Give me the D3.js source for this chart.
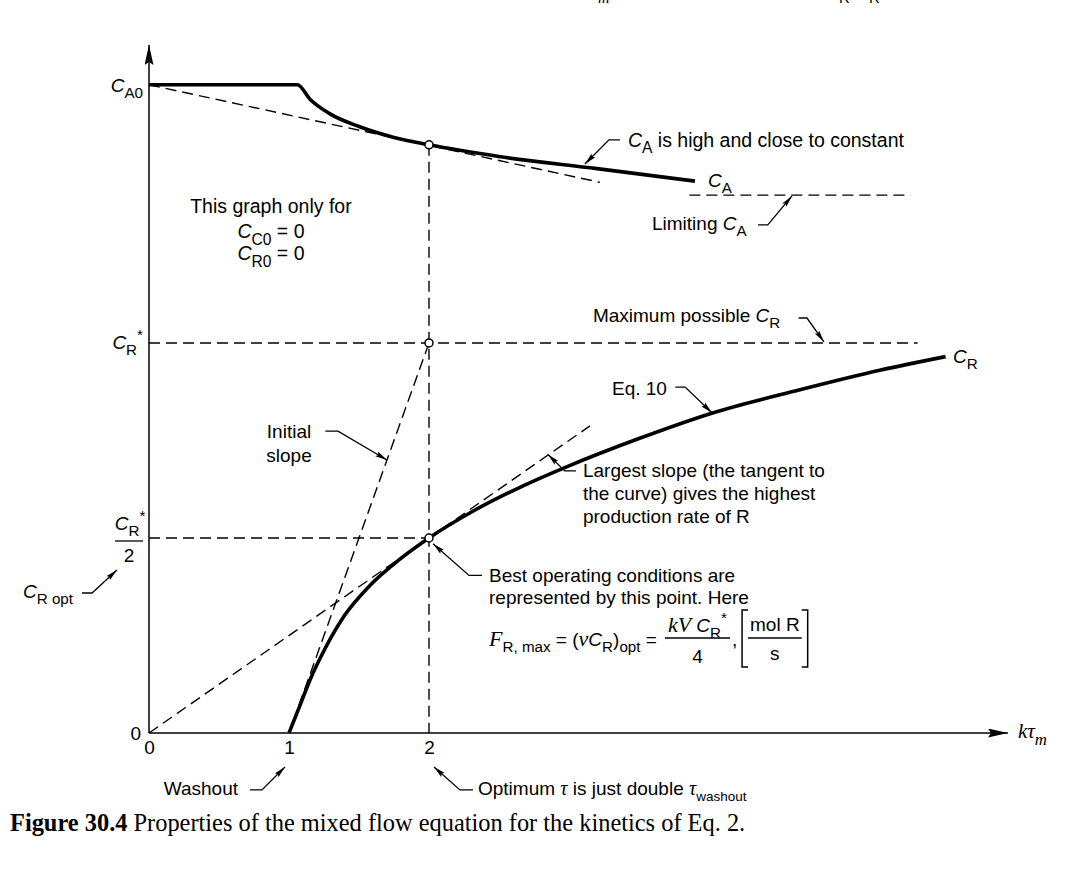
<!DOCTYPE html>
<html><head><meta charset="utf-8">
<script src="https://cdn.jsdelivr.net/npm/d3@7"></script>
<style>body{margin:0;background:#fff}svg{display:block}</style>
</head><body>
<svg id="c" width="1079" height="874"></svg>
<script>
// ---------------- data (kτm on x, concentrations in units of C_R*) ----------------
const xTicks = [0, 1, 2];
const xTickLabels = ["0", "1", "2"];
const yTicks = [0];
const yTickLabels = ["0"];
const CA0 = 1.662;          // feed concentration of A
const CRstar = 1;           // maximum possible C_R
const CRopt = 0.5;          // C_R*/2
const CAlimit = 1.379;      // limiting C_A
const kTauOpt = 2;          // optimum kτm
const kTauWash = 1;         // washout
const kTauA = [0, 1.06, 1.15, 1.29, 1.5, 1.75, 2, 2.5, 3.2, 3.9];
const CA    = [1.662, 1.662, 1.625, 1.588, 1.555, 1.527, 1.508, 1.478, 1.447, 1.415];
const kTauR = [1, 1.08, 1.15, 1.26, 1.4, 1.58, 1.79, 2, 2.31, 2.65, 3.0, 3.5, 4.02, 4.65, 5.22, 5.69];
const CR    = [0, 0.072, 0.136, 0.218, 0.303, 0.379, 0.445, 0.5, 0.568, 0.63, 0.685, 0.755, 0.82, 0.88, 0.93, 0.965];
const caTanX = [0, 3.22],  caTanY = [1.662, 1.412];
const initX  = [1.07, 2],  initY  = [0.07, 1];
const maxX   = [0, 3.15],  maxY   = [0, 0.7875];
const limitX = [3.86, 5.44];
const crStarX = [0, 5.49];

// ---------------- setup ----------------
const svg = d3.select('#c');
const SANS = '"Liberation Sans", Arial, sans-serif';
const SERIF = '"Liberation Serif", "Times New Roman", serif';
const FS = 19;
svg.style('font-family', SANS);
const x = d3.scaleLinear().domain([0, 6.136]).range([149, 1008]);
const y = d3.scaleLinear().domain([0, 1.764]).range([733, 45]);

const defs = svg.append('defs');
defs.append('marker').attr('id','axArr').attr('markerUnits','userSpaceOnUse')
  .attr('viewBox','0 0 20 9').attr('refX',20).attr('refY',4.5)
  .attr('markerWidth',20).attr('markerHeight',9).attr('orient','auto')
  .append('path').attr('d','M0,0 L20,4.5 L0,9 L3,4.5 Z').attr('fill','#000');
defs.append('marker').attr('id','anArr').attr('markerUnits','userSpaceOnUse')
  .attr('viewBox','0 0 12 6').attr('refX',12).attr('refY',3)
  .attr('markerWidth',12).attr('markerHeight',6).attr('orient','auto')
  .append('path').attr('d','M0,0.3 L12,3 L0,5.7 L2,3 Z').attr('fill','#000');

const line = d3.line().x(d => x(d[0])).y(d => y(d[1]));
const zip = (a, b) => a.map((v, i) => [v, b[i]]);
const g = svg.append('g');

function rich(sel, px, py, segs, anchor, size) {
  size = size || FS;
  const t = sel.append('text').attr('x', px).attr('y', py)
    .attr('text-anchor', anchor || 'start').style('font-size', size + 'px').attr('fill','#000');
  let off = 0;
  segs.forEach(s => {
    const sp = t.append('tspan').text(s.t);
    let target = 0, fs = s.size || size;
    if (s.sub) { target = size * 0.34; fs = s.size || size * 0.8; }
    if (s.sup) { target = -size * 0.45; fs = size * 0.8; }
    sp.attr('dy', target - off); off = target;
    if (s.dx) sp.attr('dx', s.dx);
    sp.style('font-size', fs + 'px');
    if (s.i) sp.style('font-style', 'italic');
    if (s.f) sp.style('font-family', s.f);
  });
  return t;
}
function arrow(pts) {
  g.append('path').attr('d', line(pts)).attr('fill','none').attr('stroke','#000')
    .attr('stroke-width',1.3).attr('marker-end','url(#anArr)');
}

// ---------------- axes ----------------
g.append('line').attr('x1', x(0)).attr('y1', y(0)).attr('x2', x(6.136)).attr('y2', y(0))
  .attr('stroke','#000').attr('stroke-width',1.5).attr('marker-end','url(#axArr)');
g.append('line').attr('x1', x(0)).attr('y1', y(0)).attr('x2', x(0)).attr('y2', y(1.764))
  .attr('stroke','#000').attr('stroke-width',1.5).attr('marker-end','url(#axArr)');
const xa = g.append('g').attr('transform', `translate(0,${y(0)})`)
  .call(d3.axisBottom(x).tickValues(xTicks).tickFormat((d,i) => xTickLabels[i]).tickSize(0).tickPadding(8));
const ya = g.append('g').attr('transform', `translate(${x(0)},0)`)
  .call(d3.axisLeft(y).tickValues(yTicks).tickFormat((d,i) => yTickLabels[i]).tickSize(0).tickPadding(8));
[xa, ya].forEach(a => { a.select('.domain').remove();
  a.selectAll('text').style('font-size', FS + 'px').style('font-family', SANS).attr('fill','#000'); });

// ---------------- dashed guide lines ----------------
const dash = (pts) => g.append('path').attr('d', line(pts)).attr('fill','none')
  .attr('stroke','#000').attr('stroke-width',1.4).attr('stroke-dasharray','11,6');
dash(zip(caTanX, caTanY));
dash([[kTauOpt, CA[kTauA.indexOf(kTauOpt)]], [kTauOpt, 0]]);
dash(limitX.map(v => [v, CAlimit]));
dash(crStarX.map(v => [v, CRstar]));
dash([[0, CRopt], [kTauOpt, CRopt]]);
dash(zip(initX, initY));
dash(zip(maxX, maxY));

// ---------------- solid curves ----------------
const cl = d3.line().x(d => x(d[0])).y(d => y(d[1])).curve(d3.curveMonotoneX);
g.append('path').attr('d', cl(zip(kTauA, CA))).attr('fill','none').attr('stroke','#000')
  .attr('stroke-width',3.6).attr('stroke-linejoin','round');
g.append('path').attr('d', cl(zip(kTauR, CR))).attr('fill','none').attr('stroke','#000')
  .attr('stroke-width',3.6).attr('stroke-linecap','butt');

// open circles
g.selectAll('circle.pt').data([[kTauOpt, CA[kTauA.indexOf(kTauOpt)]], [kTauOpt, CRstar], [kTauOpt, CRopt]])
  .enter().append('circle').attr('cx', d => x(d[0])).attr('cy', d => y(d[1])).attr('r', 4)
  .attr('fill','#fff').attr('stroke','#000').attr('stroke-width',1.5);

// ---------------- y-axis labels ----------------
rich(g, x(0) - 6, y(CA0) + 7, [{t:'C', i:1}, {t:'A0', sub:1}], 'end');
rich(g, x(0) - 6, y(CRstar) + 6, [{t:'C', i:1}, {t:'R', sub:1}, {t:'*', sup:1}], 'end');
rich(g, x(0) - 19, y(CRopt) - 8, [{t:'C', i:1}, {t:'R', sub:1}, {t:'*', sup:1}], 'middle');
g.append('line').attr('x1', x(0) - 34).attr('x2', x(0) - 6).attr('y1', y(CRopt) + 3).attr('y2', y(CRopt) + 3)
  .attr('stroke','#000').attr('stroke-width',1.3);
rich(g, x(0) - 20, y(CRopt) + 24, [{t:'2'}], 'middle');
rich(g, x(-0.9), y(CRopt) + 60, [{t:'C', i:1}, {t:'R opt', sub:1}], 'start');
arrow([[-0.479, 0.359], [-0.407, 0.359], [-0.229, 0.418]]);

// x label
rich(g, x(6.136) + 10, y(0) + 5, [{t:'kτ', i:1, f:SERIF, size:21}, {t:'m', sub:1, i:1, f:SERIF}], 'start', 21);

// ---------------- annotations ----------------
rich(g, x(3.421), y(1.503), [{t:'C', i:1}, {t:'A', sub:1}, {t:' is high and close to constant'}], 'start', 19.5);
arrow([[3.364, 1.521], [3.286, 1.521], [3.114, 1.459]]);
rich(g, x(3.993), y(1.40), [{t:'C', i:1}, {t:'A', sub:1}]);
rich(g, x(3.593), y(1.29), [{t:'Limiting '}, {t:'C', i:1}, {t:'A', sub:1}]);
arrow([[4.35, 1.303], [4.42, 1.303], [4.593, 1.377]]);
rich(g, x(0.871), y(1.333), [{t:'This graph only for'}], 'middle', 19.5);
rich(g, x(0.871), y(1.269), [{t:'C', i:1}, {t:'C0', sub:1}, {t:' = 0'}], 'middle', 19.5);
rich(g, x(0.871), y(1.213), [{t:'C', i:1}, {t:'R0', sub:1}, {t:' = 0'}], 'middle', 19.5);
rich(g, x(3.171), y(1.054), [{t:'Maximum possible '}, {t:'C', i:1}, {t:'R', sub:1}]);
arrow([[4.64, 1.064], [4.70, 1.064], [4.821, 1.003]]);
rich(g, x(5.743), y(0.949), [{t:'C', i:1}, {t:'R', sub:1}]);
rich(g, x(3.307), y(0.867), [{t:'Eq. 10'}]);
arrow([[3.76, 0.887], [3.83, 0.887], [4.021, 0.821]]);
rich(g, x(1.0), y(0.756), [{t:'Initial'}], 'middle');
rich(g, x(1.0), y(0.695), [{t:'slope'}], 'middle');
arrow([[1.26, 0.774], [1.35, 0.774], [1.70, 0.70]]);
rich(g, x(3.1), y(0.656), [{t:'Largest slope (the tangent to'}]);
rich(g, x(3.1), y(0.597), [{t:'the curve) gives the highest'}]);
rich(g, x(3.1), y(0.538), [{t:'production rate of R'}]);
arrow([[3.05, 0.672], [2.97, 0.672], [2.85, 0.714]]);
rich(g, x(2.429), y(0.387), [{t:'Best operating conditions are'}]);
rich(g, x(2.429), y(0.331), [{t:'represented by this point. Here'}]);
arrow([[2.379, 0.404], [2.286, 0.404], [2.029, 0.485]]);

// formula
const fx = x(2.429), fy = y(0.223);
const left = rich(g, fx, fy, [{t:'F', i:1, f:SERIF, size:22}, {t:'R, max', sub:1}, {t:' = ('},
  {t:'v', i:1, f:SERIF, size:22}, {t:'C', i:1}, {t:'R', sub:1}, {t:')'}, {t:'opt', sub:1}, {t:' ='}]);
const lb = left.node().getBBox();
let cx0 = lb.x + lb.width + 8;
const num = rich(g, 0, fy - 14, [{t:'kV', i:1, f:SERIF, size:22}, {t:' C', i:1}, {t:'R', sub:1}, {t:'*', sup:1}], 'start');
const nw = num.node().getBBox().width;
num.attr('x', cx0 + 3);
g.append('line').attr('x1', cx0).attr('x2', cx0 + nw + 6).attr('y1', fy - 8).attr('y2', fy - 8)
  .attr('stroke','#000').attr('stroke-width',1.3);
rich(g, cx0 + (nw + 6) / 2, fy + 17, [{t:'4'}], 'middle');
rich(g, cx0 + nw + 8, fy, [{t:','}]);
const bx = cx0 + nw + 18;
const unit = rich(g, 0, fy - 15, [{t:'mol R'}], 'middle');
const uw = unit.node().getBBox().width;
unit.attr('x', bx + 8 + uw / 2);
g.append('line').attr('x1', bx + 6).attr('x2', bx + 10 + uw).attr('y1', fy - 8).attr('y2', fy - 8)
  .attr('stroke','#000').attr('stroke-width',1.3);
rich(g, bx + 8 + uw / 2, fy + 14, [{t:'s'}], 'middle');
g.append('path').attr('d', `M${bx+6},${fy-36} H${bx} V${fy+21} H${bx+6}`).attr('fill','none').attr('stroke','#000').attr('stroke-width',1.5);
g.append('path').attr('d', `M${bx+10+uw},${fy-36} H${bx+16+uw} V${fy+21} H${bx+10+uw}`).attr('fill','none').attr('stroke','#000').attr('stroke-width',1.5);

// bottom annotations
rich(g, x(0.636), y(-0.159), [{t:'Washout'}], 'end');
arrow([[0.721, -0.146], [0.807, -0.146], [0.971, -0.087]]);
rich(g, x(2.35), y(-0.159), [{t:'Optimum '}, {t:'τ', i:1, f:SERIF, size:20}, {t:' is just double '},
  {t:'τ', i:1, f:SERIF, size:20}, {t:'washout', sub:1, size:13.5}]);
arrow([[2.314, -0.146], [2.221, -0.146], [2.036, -0.087]]);

// cropped fragments at top edge (as in the reference page cut)
rich(svg, 598, 3, [{t:'m', i:1, f:SERIF}], 'start', 16);
rich(svg, 839, 3, [{t:'R'}], 'start', 15);
rich(svg, 869, 3, [{t:'R'}], 'start', 15);

// caption
const cap = svg.append('text').attr('x', 10).attr('y', 831).style('font-family', SERIF).style('font-size','24.4px');
cap.append('tspan').text('Figure 30.4').style('font-weight','bold');
cap.append('tspan').text(' Properties of the mixed flow equation for the kinetics of Eq. 2.');
</script>
</body></html>
